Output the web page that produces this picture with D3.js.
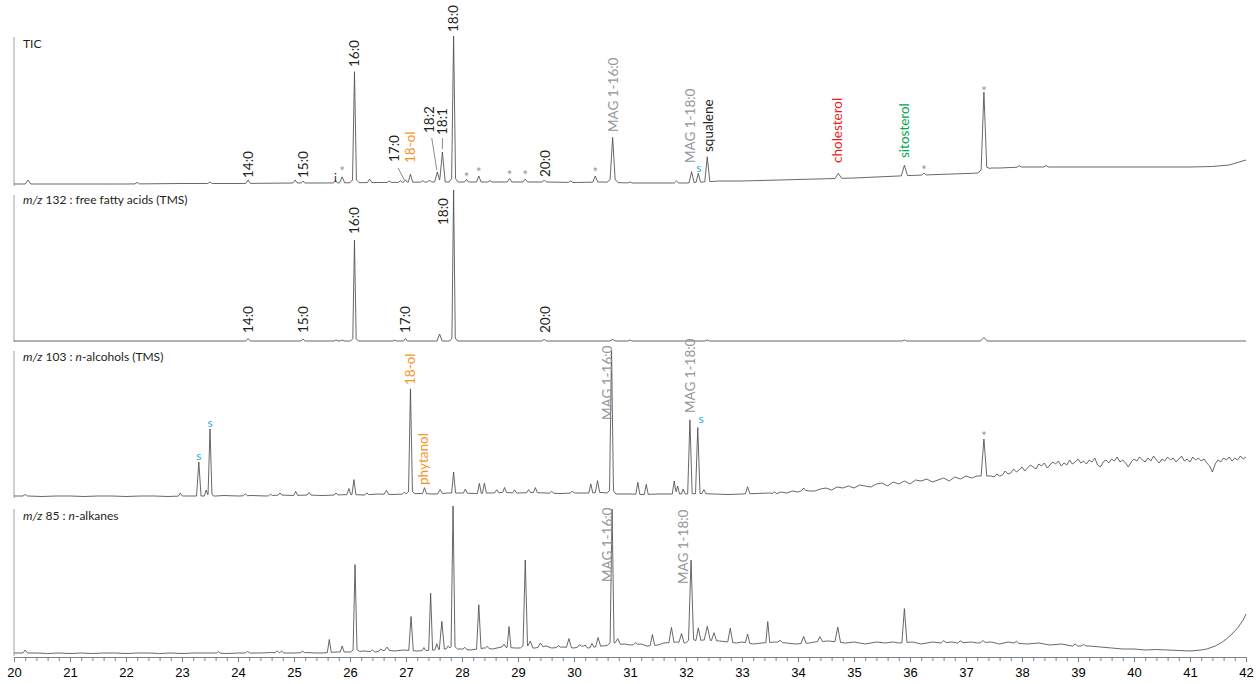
<!DOCTYPE html>
<html><head><meta charset="utf-8">
<script src="https://cdn.jsdelivr.net/npm/d3@7"></script>
<style>body{margin:0;background:#fff;} svg{display:block}</style>
</head><body>
<svg id="c" width="1258" height="684"></svg>
<script>
// ---------------- DATA (retention time in min, relative abundance) ----------------
const xDomain = [20, 42];
const majorTicks = d3.range(20, 43, 1);
const minorTicks = d3.range(20, 42.001, 0.2);

// panel titles: [text, italic]
const titleTIC = [["TIC", false]];
const title132 = [["m/z", true], [" 132 : free fatty acids (TMS)", false]];
const title103 = [["m/z", true], [" 103 : ", false], ["n", true], ["-alcohols (TMS)", false]];
const title85  = [["m/z", true], [" 85 : ", false], ["n", true], ["-alkanes", false]];

// ---- TIC ----
const ticBase = [[20,2],[21,2],[22,2],[23,2.5],[24,2.5],[25,3],[25.5,3],[26.5,3.5],[27.5,4],[28.5,4],[29.5,4],[30,3.5],[30.5,4],[31,3],[31.5,3],[32,3],[32.6,5],[33,5],[34,6.5],[35,8],[36,10.5],[37,12.5],[37.25,13],[37.45,18],[37.6,18],[38,19],[38.5,19],[39,19],[40,19],[41,19],[41.4,19.5],[41.7,21],[42,26]];
// [rt, height above baseline, half base width]
const ticPeaks = [[20.25,4,0.05],[22.2,1.5,0.04],[23.5,1.5,0.04],[24.18,3.5,0.04],[25.02,3,0.04],[25.16,2,0.035],[25.74,2.5,0.035],[25.86,6,0.045],[26.08,106,0.035],[26.08,5,0.08],[26.35,3.5,0.04],[26.7,1.5,0.035],[26.9,1.5,0.035],[26.99,2.5,0.035],[27.08,8,0.04],[27.3,1.5,0.035],[27.42,2,0.035],[27.56,10,0.05],[27.65,30,0.05],[27.85,140,0.035],[27.85,6,0.08],[28.08,2.5,0.035],[28.3,6,0.04],[28.5,1.5,0.035],[28.85,3.5,0.04],[29.13,3,0.04],[29.47,2,0.035],[29.94,1.5,0.04],[30.38,6,0.045],[30.69,40,0.045],[30.69,5,0.1],[31.0,1,0.04],[31.83,2,0.04],[32.1,11,0.045],[32.22,9,0.04],[32.38,25,0.045],[34.72,5,0.06],[35.9,10.5,0.055],[36.25,2,0.04],[37.32,74,0.05],[37.32,5,0.11],[37.95,1.5,0.04],[38.43,1.5,0.04]];
// rotated labels: [text, rt, abundance at label foot, kind]
const ticLabels = [["14:0",24.18,8,"k"],["15:0",25.16,8,"k"],["16:0",26.08,119,"k"],["17:0",26.79,24,"k"],["18-ol",27.08,23,"o"],["18:2",27.42,53,"k"],["18:1",27.64,51,"k"],["18:0",27.85,154,"k"],["20:0",29.49,9,"k"],["MAG 1-16:0",30.69,54,"g"],["MAG 1-18:0",32.08,23,"g"],["squalene",32.4,34,"k"],["cholesterol",34.7,23,"r"],["sitosterol",35.9,28,"gr"]];
// upright marks: [text, rt, abundance, kind]
const ticMarks = [["i",25.74,8,"k"],["*",25.86,18,"g"],["*",28.08,12,"g"],["*",28.3,17,"g"],["*",28.85,14,"g"],["*",29.13,14,"g"],["*",30.38,17,"g"],["s",32.23,18,"b"],["*",36.25,19,"g"],["*",37.32,98,"g"]];
// leader lines: [rt1, ab1, rt2, ab2]
const ticLeaders = [[26.86,18,26.97,6],[27.46,48,27.55,16],[27.65,48,27.65,37]];

// ---- m/z 132 ----
const ffaBase = [[20,1],[42,1]];
const ffaPeaks = [[24.18,2.5,0.04],[25.16,2,0.035],[25.75,1,0.035],[25.86,1,0.035],[26.08,97,0.03],[26.08,4,0.07],[26.8,0.8,0.035],[26.99,2.5,0.035],[27.6,7,0.045],[27.85,146,0.03],[27.85,5,0.07],[29.47,2,0.035],[30.69,1.5,0.05],[31.0,1,0.035],[32.38,1,0.04],[35.9,1,0.04],[37.32,3.5,0.06]];
const ffaLabels = [["14:0",24.18,9,"k"],["15:0",25.16,9,"k"],["16:0",26.08,108,"k"],["17:0",26.99,9,"k"],["18:0",27.66,117,"k"],["20:0",29.49,9,"k"]];

// ---- m/z 103 ----
const alcBase = [[20,2],[20.25,2],[20.5,1.5],[20.75,2],[21,2],[21.25,1.5],[21.5,2],[21.75,2],[22,1.5],[22.25,2],[22.5,2],[22.75,1.5],[23,2],[23.25,2],[23.6,2],[23.75,2.5],[24,2],[24.25,2.5],[24.5,2],[24.75,3],[25,2.5],[25.25,3],[25.5,2.5],[25.75,3],[26,3.5],[26.25,3],[26.5,4],[26.75,3.5],[27,4],[27.25,4.5],[27.5,4],[27.75,5],[28,5],[28.25,4.5],[28.5,5],[28.75,5.5],[29,5],[29.25,5.5],[29.5,5],[29.75,4.5],[30,5],[30.25,5],[30.5,5.5],[30.75,4],[31,4],[31.25,3.5],[31.5,4],[31.75,4],[32,4],[32.25,4.5],[32.5,4],[32.75,3.5],[33,4],[33.25,4.5],
[33.5,5],[33.6,4],[33.7,6],[33.8,5],[33.9,7],[34.0,6],[34.1,8],[34.2,7],[34.3,7],[34.4,9],[34.5,10],[34.6,8],[34.7,11],[34.8,10],[34.9,12],[35.0,10],[35.1,13],[35.2,12],[35.3,11],[35.4,14],[35.5,15],[35.6,12],[35.7,16],[35.8,14],[35.9,17],[36.0,14],[36.1,18],[36.2,17],[36.3,19],[36.4,16],[36.5,18],[36.6,20],[36.7,17],[36.8,21],[36.9,19],[37.0,22],[37.1,20],[37.2,22],
[37.45,22],[37.5,21],[37.55,24],[37.6,22],[37.65,23],[37.7,27],[37.75,24],[37.8,25],[37.85,29],[37.9,26],[37.95,28],[38.0,31],[38.05,27],[38.1,30],[38.15,33],[38.2,31],[38.25,29],[38.3,34],[38.35,32],[38.4,35],[38.45,30],[38.5,33],[38.55,36],[38.6,34],[38.65,37],[38.7,32],[38.75,35],[38.8,33],[38.85,38],[38.9,34],[38.95,36],[39.0,39],[39.05,35],[39.1,37],[39.15,34],[39.2,38],[39.25,36],[39.3,40],[39.35,33],[39.4,31],[39.45,36],[39.5,38],[39.55,35],[39.6,39],[39.65,37],[39.7,41],[39.75,36],[39.8,38],[39.85,35],[39.9,31],[39.95,36],[40.0,39],[40.05,37],[40.1,41],[40.15,38],[40.2,36],[40.25,40],[40.3,37],[40.35,42],[40.4,38],[40.45,35],[40.5,39],[40.55,37],[40.6,41],[40.65,38],[40.7,40],[40.75,36],[40.8,39],[40.85,42],[40.9,37],[40.95,39],[41.0,36],[41.05,41],[41.1,38],[41.15,40],[41.2,37],[41.25,39],[41.3,35],[41.35,32],[41.4,26],[41.45,34],[41.5,38],[41.55,36],[41.6,40],[41.65,38],[41.7,41],[41.75,37],[41.8,40],[41.85,38],[41.9,42],[41.95,39],[42.0,41]];
const alcPeaks = [[20.2,1.5,0.04],[22.97,3,0.035],[23.3,34,0.04],[23.43,6,0.03],[23.5,64,0.035],[23.5,3,0.07],[24.13,2,0.035],[24.58,1.5,0.035],[24.75,2,0.035],[25.03,4,0.035],[25.27,2.5,0.035],[25.75,2,0.035],[25.98,6,0.035],[26.07,15,0.035],[26.3,2,0.035],[26.65,4,0.04],[26.97,2,0.035],[27.08,101,0.035],[27.08,4,0.08],[27.33,6,0.035],[27.61,4,0.04],[27.85,21,0.035],[28.06,4,0.035],[28.31,10,0.035],[28.4,10,0.035],[28.62,3,0.035],[28.76,5,0.035],[28.94,3,0.035],[29.19,3,0.035],[29.31,5,0.035],[29.6,2,0.035],[29.97,2,0.035],[30.3,9,0.035],[30.42,12,0.04],[30.67,138,0.035],[30.67,5,0.08],[31.14,12,0.035],[31.29,10,0.035],[31.79,13,0.035],[31.85,8,0.035],[31.95,5,0.035],[32.07,74,0.04],[32.21,66,0.04],[32.32,4,0.035],[33.1,7,0.04],[33.58,2,0.035],[34.1,2,0.035],[37.32,37,0.05]];
const alcLabels = [["18-ol",27.08,113,"o"],["phytanol",27.3,13,"o"],["MAG 1-16:0",30.59,78,"g"],["MAG 1-18:0",32.07,85,"g"]];
const alcMarks = [["s",23.3,42,"b"],["s",23.5,75,"b"],["s",32.27,79,"b"],["*",37.32,65,"g"]];

// ---- m/z 85 ----
const alkBase = [[20,3],[20.4,3],[20.6,2.5],[20.8,3],[21,2.5],[21.2,3],[21.4,2.5],[21.6,3],[21.8,3],[22,2.5],[22.2,3],[22.4,3],[22.6,2.5],[22.8,3],[23,2.5],[23.2,3],[23.4,3],[23.6,3],[23.8,2.5],[24,3],[24.4,3],[24.6,3.5],[24.8,3],[25,3],[25.2,3.5],[25.4,3],[25.5,3],[25.75,4],[26,4],[26.25,5],[26.45,4],[26.65,6],[26.8,5],[26.95,6],[27.2,5],[27.5,6],[27.7,7],[28,7],[28.15,6],[28.4,8],[28.55,7],[28.7,9],[28.95,8],[29.3,8],[29.5,10],[29.6,8],[29.8,9],[30,8],[30.15,10],[30.25,8],[30.5,10],[30.9,12],[31,11],[31.2,12],[31.3,10],[31.5,11],[31.6,13],[31.85,14],[32,13],[32.3,16],[32.6,15],[32.9,13],[33.0,14],[33.2,12],[33.35,13],[33.6,14],[33.8,13],[33.95,12],[34.2,13],[34.3,14],[34.55,15],[34.85,13],[35,14],[35.2,12],[35.4,14],[35.55,13],[35.7,14],[35.8,13],[36.05,14],[36.2,12],[36.4,14],[36.55,13],[36.75,14],[36.85,13],[37.1,14],[37.2,13],[37.45,14],[37.6,12],[37.75,14],[37.85,13],[38.1,12],[38.3,13],[38.5,11],[38.7,12],[38.9,10],[39.2,10],[39.4,9],[39.6,8],[39.8,7],[40,7],[40.2,6],[40.4,6.5],[40.6,6],[40.8,5.5],[41,5],[41.2,6],[41.3,7],[41.45,10],[41.55,13],[41.65,17],[41.75,22],[41.85,28],[41.95,36],[42,42]];
const alkPeaks = [[20.2,3,0.04],[23.65,1.5,0.035],[24.17,2,0.035],[24.7,2,0.035],[24.78,2,0.035],[25.15,1.5,0.035],[25.63,13,0.035],[25.86,6,0.035],[26.09,84,0.035],[26.09,3,0.08],[26.4,2,0.035],[26.55,2,0.035],[26.66,3,0.04],[27.09,34,0.04],[27.32,3,0.035],[27.44,57,0.035],[27.55,6,0.035],[27.64,28,0.045],[27.75,3,0.035],[27.84,139,0.035],[27.84,4,0.08],[28.05,2,0.035],[28.3,44,0.04],[28.45,2,0.035],[28.75,3,0.035],[28.84,21,0.035],[29.13,84,0.04],[29.13,4,0.09],[29.22,7,0.045],[29.4,4,0.045],[29.72,2,0.035],[29.91,9,0.045],[30.1,2,0.035],[30.2,2,0.035],[30.32,4,0.035],[30.43,9,0.045],[30.68,132,0.035],[30.68,4,0.09],[30.78,6,0.05],[31.1,2,0.035],[31.4,11,0.04],[31.74,15,0.045],[31.92,9,0.045],[32.09,78,0.045],[32.09,4,0.1],[32.22,13,0.045],[32.38,14,0.055],[32.5,8,0.045],[32.79,14,0.045],[33.1,9,0.04],[33.46,21,0.035],[33.68,2,0.045],[34.1,7,0.045],[34.39,5,0.045],[34.71,15,0.05],[35.9,34,0.045],[36.6,2,0.045],[36.9,2,0.045],[37.3,2,0.045],[37.9,2,0.045],[38.95,2,0.045],[39.1,1.5,0.045]];
const alkLabels = [["MAG 1-16:0",30.59,74,"g"],["MAG 1-18:0",31.94,72,"g"]];

// ---------------- LAYOUT / STYLE ----------------
const colors = {k:"#231f20", o:"#f7941d", g:"#939598", r:"#ed1c24", gr:"#00a651", b:"#27aae1"};
const x = d3.scaleLinear().domain(xDomain).range([14, 1246]);
const panels = [
  {title:titleTIC, base:ticBase, peaks:ticPeaks, labels:ticLabels, marks:ticMarks, leaders:ticLeaders, zero:186, top:37, titleY:48},
  {title:title132, base:ffaBase, peaks:ffaPeaks, labels:ffaLabels, marks:[], leaders:[], zero:342, top:195, titleY:204},
  {title:title103, base:alcBase, peaks:alcPeaks, labels:alcLabels, marks:alcMarks, leaders:[], zero:498, top:351, titleY:361},
  {title:title85, base:alkBase, peaks:alkPeaks, labels:alkLabels, marks:[], leaders:[], zero:656, top:509, titleY:520}
];

function traceValues(base, peaks) {
  const ts = new Set(base.map(d => d[0]));
  peaks.forEach(([t, h, w]) => { ts.add(t - w); ts.add(t); ts.add(t + w); });
  const arr = Array.from(ts).filter(t => t >= xDomain[0] && t <= xDomain[1]).sort((a, b) => a - b);
  const bx = base.map(d => d[0]);
  const interp = t => {
    const i = d3.bisectRight(bx, t);
    if (i <= 0) return base[0][1];
    if (i >= base.length) return base[base.length - 1][1];
    const [t0, v0] = base[i - 1], [t1, v1] = base[i];
    return v0 + (v1 - v0) * (t - t0) / (t1 - t0);
  };
  return arr.map(t => [t, interp(t) + d3.sum(peaks, ([tp, h, w]) => Math.max(0, h * (1 - Math.abs(t - tp) / w)))]);
}

const svg = d3.select("#c");
const FONT = "Lato, 'Open Sans', sans-serif";

panels.forEach(p => {
  const y = d3.scaleLinear().domain([0, 150]).range([p.zero, p.zero - 150]);
  const g = svg.append("g");
  g.append("line").attr("x1", x(20)).attr("x2", x(20)).attr("y1", p.top).attr("y2", p.zero)
    .attr("stroke", "#a7a9ac").attr("stroke-width", 1.1);
  const tt = g.append("text").attr("x", 23).attr("y", p.titleY).attr("font-family", FONT)
    .attr("font-size", 12).attr("fill", "#231f20");
  p.title.forEach(([s, it]) => tt.append("tspan").attr("font-style", it ? "italic" : "normal").text(s));
  const line = d3.line().x(d => x(d[0])).y(d => y(d[1]));
  g.append("path").datum(traceValues(p.base, p.peaks)).attr("d", line)
    .attr("fill", "none").attr("stroke", "#4d4d4d").attr("stroke-width", 0.85).attr("stroke-linejoin", "round");
  g.selectAll("line.ld").data(p.leaders).join("line").attr("class", "ld")
    .attr("x1", d => x(d[0])).attr("y1", d => y(d[1])).attr("x2", d => x(d[2])).attr("y2", d => y(d[3]))
    .attr("stroke", "#58595b").attr("stroke-width", 0.7);
  g.selectAll("text.lab").data(p.labels).join("text").attr("class", "lab")
    .attr("transform", d => `translate(${x(d[1])},${y(d[2])}) rotate(-90)`)
    .attr("dy", "0.36em").attr("font-family", FONT).attr("font-size", 13.5)
    .attr("fill", d => colors[d[3]]).text(d => d[0]);
  g.selectAll("text.mk").data(p.marks).join("text").attr("class", "mk")
    .attr("x", d => x(d[1])).attr("y", d => y(d[2]))
    .attr("dy", d => d[0] === "*" ? "0.6em" : "0.35em")
    .attr("text-anchor", "middle").attr("font-family", FONT)
    .attr("font-size", d => d[0] === "*" ? 13 : 12)
    .attr("fill", d => colors[d[3]]).text(d => d[0]);
});

const axisY = 657;
const minorAxis = svg.append("g").attr("transform", `translate(0,${axisY})`)
  .call(d3.axisBottom(x).tickValues(minorTicks).tickSize(4).tickFormat(""));
minorAxis.select(".domain").remove();
minorAxis.selectAll("line").attr("stroke", "#808285");
const majorAxis = svg.append("g").attr("transform", `translate(0,${axisY})`)
  .call(d3.axisBottom(x).tickValues(majorTicks).tickSize(5).tickSizeOuter(0).tickPadding(6).tickFormat(d3.format("d")));
majorAxis.select(".domain").attr("stroke", "#808285");
majorAxis.selectAll("line").attr("stroke", "#808285");
majorAxis.selectAll("text").attr("font-family", "'Liberation Sans', Arial, sans-serif").attr("font-size", 13).attr("fill", "#000");
</script>
</body></html>
